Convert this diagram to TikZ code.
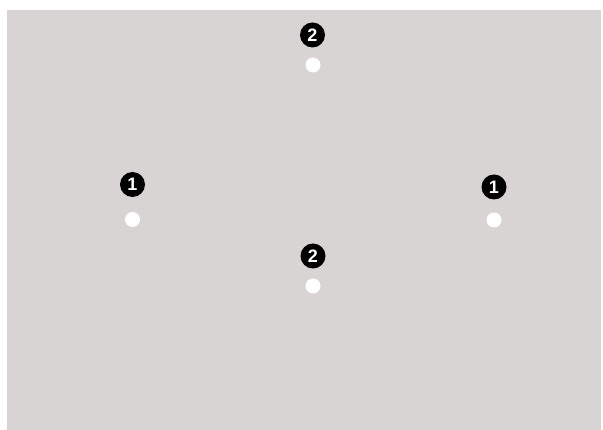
\documentclass[tikz,border=0pt]{standalone}
\usepackage{fontspec}
\setmainfont{Liberation Sans}
\definecolor{bggrey}{RGB}{217,212,212}
\begin{document}
\begin{tikzpicture}[x=1pt,y=-1pt,
  badge/.style={circle,fill=black,inner sep=0pt,minimum size=25pt,text=white,font=\bfseries\fontsize{18}{18}\selectfont},
  dot/.style={circle,fill=white,inner sep=0pt,minimum size=15pt}]
\useasboundingbox (0,0) rectangle (603,430);
\fill[bggrey] (7,10) rectangle (601,430);
\node[badge] (b1) at (132.5,184.5) {1};
\node[dot] (d1) at (132.5,219.5) {};
\node[badge] (b2) at (312.5,35) {2};
\node[dot] (d2) at (313,65) {};
\node[badge] (b3) at (494,187) {1};
\node[dot] (d3) at (494,220) {};
\node[badge] (b4) at (313,256) {2};
\node[dot] (d4) at (313,286) {};
\end{tikzpicture}
\end{document}
